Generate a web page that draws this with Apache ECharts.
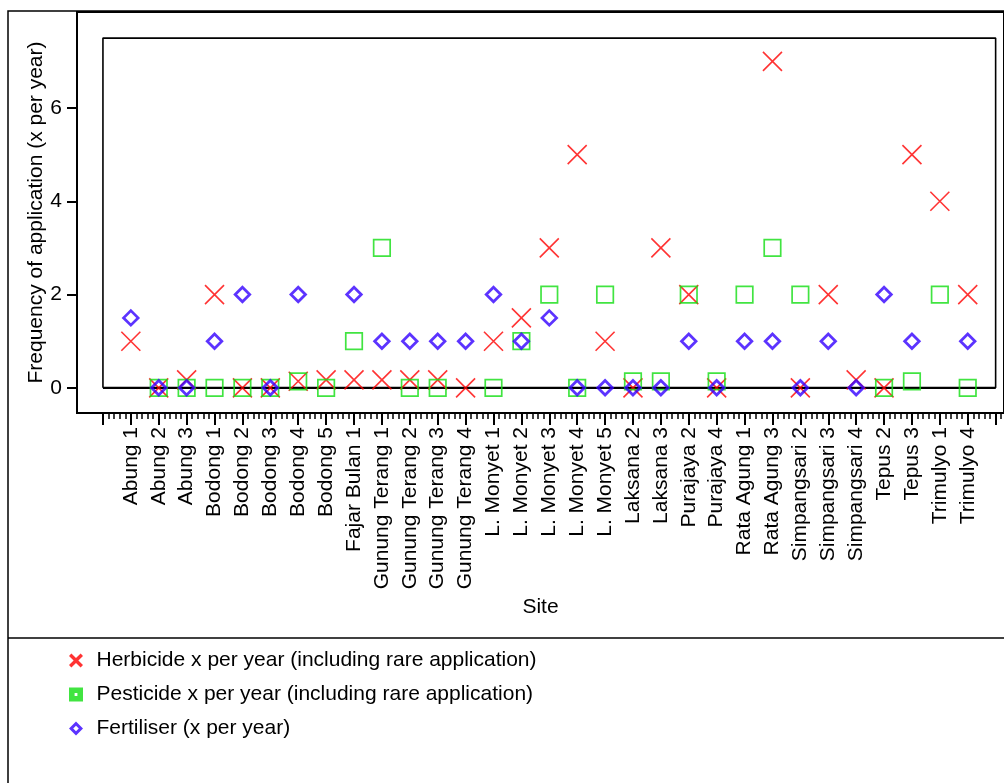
<!DOCTYPE html>
<html>
<head>
<meta charset="utf-8">
<title>Frequency of application by site</title>
<script src="https://cdn.jsdelivr.net/npm/echarts@6/dist/echarts.min.js"></script>
<style>
  html, body { margin: 0; padding: 0; background: #fff; }
  #chart { width: 1004px; height: 783px; }
</style>
</head>
<body>
<div id="chart"></div>
<script>
// Sites along the horizontal axis (one position per site)
const sites = [
  'Abung 1', 'Abung 2', 'Abung 3',
  'Bodong 1', 'Bodong 2', 'Bodong 3', 'Bodong 4', 'Bodong 5',
  'Fajar Bulan 1',
  'Gunung Terang 1', 'Gunung Terang 2', 'Gunung Terang 3', 'Gunung Terang 4',
  'L. Monyet 1', 'L. Monyet 2', 'L. Monyet 3', 'L. Monyet 4', 'L. Monyet 5',
  'Laksana 2', 'Laksana 3',
  'Purajaya 2', 'Purajaya 4',
  'Rata Agung 1', 'Rata Agung 3',
  'Simpangsari 2', 'Simpangsari 3', 'Simpangsari 4',
  'Tepus 2', 'Tepus 3',
  'Trimulyo 1', 'Trimulyo 4'
];

// Applications per year; null = not recorded for that site
const herbicide = [
  1, 0, 0.17,
  2, 0, 0, 0.14, 0.17,
  0.17,
  0.17, 0.17, 0.17, 0,
  1, 1.5, 3, 5, 1,
  0, 3,
  2, 0,
  null, 7,
  0, 2, 0.17,
  0, 5,
  4, 2
];
const pesticide = [
  null, 0, 0,
  0, 0, 0, 0.14, 0,
  1,
  3, 0, 0, null,
  0, 1, 2, 0, 2,
  0.14, 0.14,
  2, 0.14,
  2, 3,
  2, null, null,
  0, 0.14,
  2, 0
];
const fertiliser = [
  1.5, 0, 0,
  1, 2, 0, 2, null,
  2,
  1, 1, 1, 1,
  2, 1, 1.5, 0, 0,
  0, 0,
  1, 0,
  1, 1,
  0, 1, 0,
  2, 1,
  null, 1
];

const seriesNames = [
  'Herbicide x per year (including rare application)',
  'Pesticide x per year (including rare application)',
  'Fertiliser (x per year)'
];

// Axis ticks and the reference box drawn inside the plot
const yTickValues = [0, 2, 4, 6];
const boxX = [-1, 31];
const boxY = [0, 7.5];

const FONT = '"Liberation Sans", Arial, Helvetica, sans-serif';
const X_MIN = -1.93, X_MAX = 31.3;
const Y_MIN = -0.54, Y_MAX = 8.06;

const labelPositions = sites.map((_, i) => i);
const majorTicks = [];
for (let v = boxX[0]; v <= boxX[1]; v++) majorTicks.push(v);
const minorTicks = [];
for (let k = 1; boxX[0] + k * 0.2 < X_MAX; k++) {
  if (k % 5 !== 0) minorTicks.push(+(boxX[0] + k * 0.2).toFixed(2));
}

const toPoints = arr => arr.map((v, i) => (v == null ? null : [i, v])).filter(p => p);

const crossPath = 'path://M0,0L20,20M20,0L0,20';
const legendCross = 'path://M0,1.7L1.7,0L5,3.3L8.3,0L10,1.7L6.7,5L10,8.3L8.3,10L5,6.7L1.7,10L0,8.3L3.3,5Z';
const legendSquare = 'path://M0,0H10V10H0Z M4,4V6H6V4Z';
const legendDiamond = 'path://M5,0L10,5L5,10L0,5Z M5,3L3,5L5,7L7,5Z';

const RED = '#ff0000', GREEN = '#11dd11', BLUE = '#3300ff';

const chart = echarts.init(document.getElementById('chart'), null, { renderer: 'canvas' });

chart.setOption({
  animation: false,
  backgroundColor: '#fff',
  textStyle: { fontFamily: FONT },
  graphic: [
    { type: 'rect', z: -10, silent: true,
      shape: { x: 8, y: 11, width: 1100, height: 900 },
      style: { fill: null, stroke: '#000', lineWidth: 1.5 } },
    { type: 'line', z: -10, silent: true,
      shape: { x1: 8, y1: 638, x2: 1010, y2: 638 },
      style: { stroke: '#000', lineWidth: 1.5 } }
  ],
  grid: {
    left: 77, top: 12, width: 928, height: 401,
    show: true, borderColor: '#000', borderWidth: 2, backgroundColor: 'transparent'
  },
  legend: {
    orient: 'vertical',
    left: 64, top: 645,
    itemWidth: 31, itemHeight: 14, itemGap: 13,
    selectedMode: false,
    textStyle: { fontSize: 21, color: '#000', fontFamily: FONT },
    data: [
      { name: seriesNames[0], icon: legendCross, itemStyle: { color: RED, borderWidth: 0 } },
      { name: seriesNames[1], icon: legendSquare, itemStyle: { color: GREEN, borderWidth: 0 } },
      { name: seriesNames[2], icon: legendDiamond, itemStyle: { color: BLUE, borderWidth: 0 } }
    ]
  },
  xAxis: [
    {
      type: 'value', min: X_MIN, max: X_MAX, position: 'bottom',
      name: 'Site', nameLocation: 'middle', nameGap: 184, nameMoveOverlap: false,
      nameTextStyle: { fontSize: 21, color: '#000', fontFamily: FONT },
      axisLine: { show: true, onZero: false, lineStyle: { color: '#000', width: 2 } },
      axisTick: { show: true, customValues: majorTicks, length: 12, lineStyle: { color: '#000', width: 2 } },
      axisLabel: {
        customValues: labelPositions, rotate: 90, margin: 14,
        fontSize: 21, color: '#000', fontFamily: FONT,
        formatter: v => sites[Math.round(v)] || ''
      },
      splitLine: { show: false }
    },
    {
      type: 'value', min: X_MIN, max: X_MAX, position: 'bottom',
      axisLine: { show: false, onZero: false },
      axisTick: { show: true, customValues: minorTicks, length: 6, lineStyle: { color: '#000', width: 1.5 } },
      axisLabel: { show: false },
      splitLine: { show: false }
    }
  ],
  yAxis: {
    type: 'value', min: Y_MIN, max: Y_MAX,
    name: 'Frequency of application (x per year)', nameLocation: 'middle', nameGap: 30,
    nameMoveOverlap: false,
    nameTextStyle: { fontSize: 21, color: '#000', fontFamily: FONT },
    axisLine: { show: true, onZero: false, lineStyle: { color: '#000', width: 2 } },
    axisTick: { show: true, customValues: yTickValues, length: 10, lineStyle: { color: '#000', width: 2 } },
    axisLabel: { customValues: yTickValues, margin: 15, fontSize: 21, color: '#000', fontFamily: FONT },
    splitLine: { show: false }
  },
  series: [
    {
      name: 'box', type: 'line', silent: true, z: 1, symbol: 'none',
      lineStyle: { color: '#000', width: 1.6 },
      data: [[boxX[0], boxY[0]], [boxX[1], boxY[0]], [boxX[1], boxY[1]], [boxX[0], boxY[1]], [boxX[0], boxY[0]]]
    },
    {
      name: 'zero', type: 'line', silent: true, z: 1, symbol: 'none',
      lineStyle: { color: '#000', width: 2.2 },
      data: [[boxX[0], 0], [boxX[1], 0]]
    },
    {
      name: seriesNames[0], type: 'scatter', z: 3,
      symbol: crossPath, symbolSize: 19,
      itemStyle: { color: 'rgba(0,0,0,0)', borderColor: RED, borderWidth: 1.6 },
      data: toPoints(herbicide)
    },
    {
      name: seriesNames[1], type: 'scatter', z: 3,
      symbol: 'rect', symbolSize: 16.5,
      itemStyle: { color: 'rgba(0,0,0,0)', borderColor: GREEN, borderWidth: 1.7 },
      data: toPoints(pesticide)
    },
    {
      name: seriesNames[2], type: 'scatter', z: 3,
      symbol: 'diamond', symbolSize: 14.5,
      itemStyle: { color: 'rgba(0,0,0,0)', borderColor: BLUE, borderWidth: 2.8 },
      data: toPoints(fertiliser)
    }
  ]
});
</script>
</body>
</html>
